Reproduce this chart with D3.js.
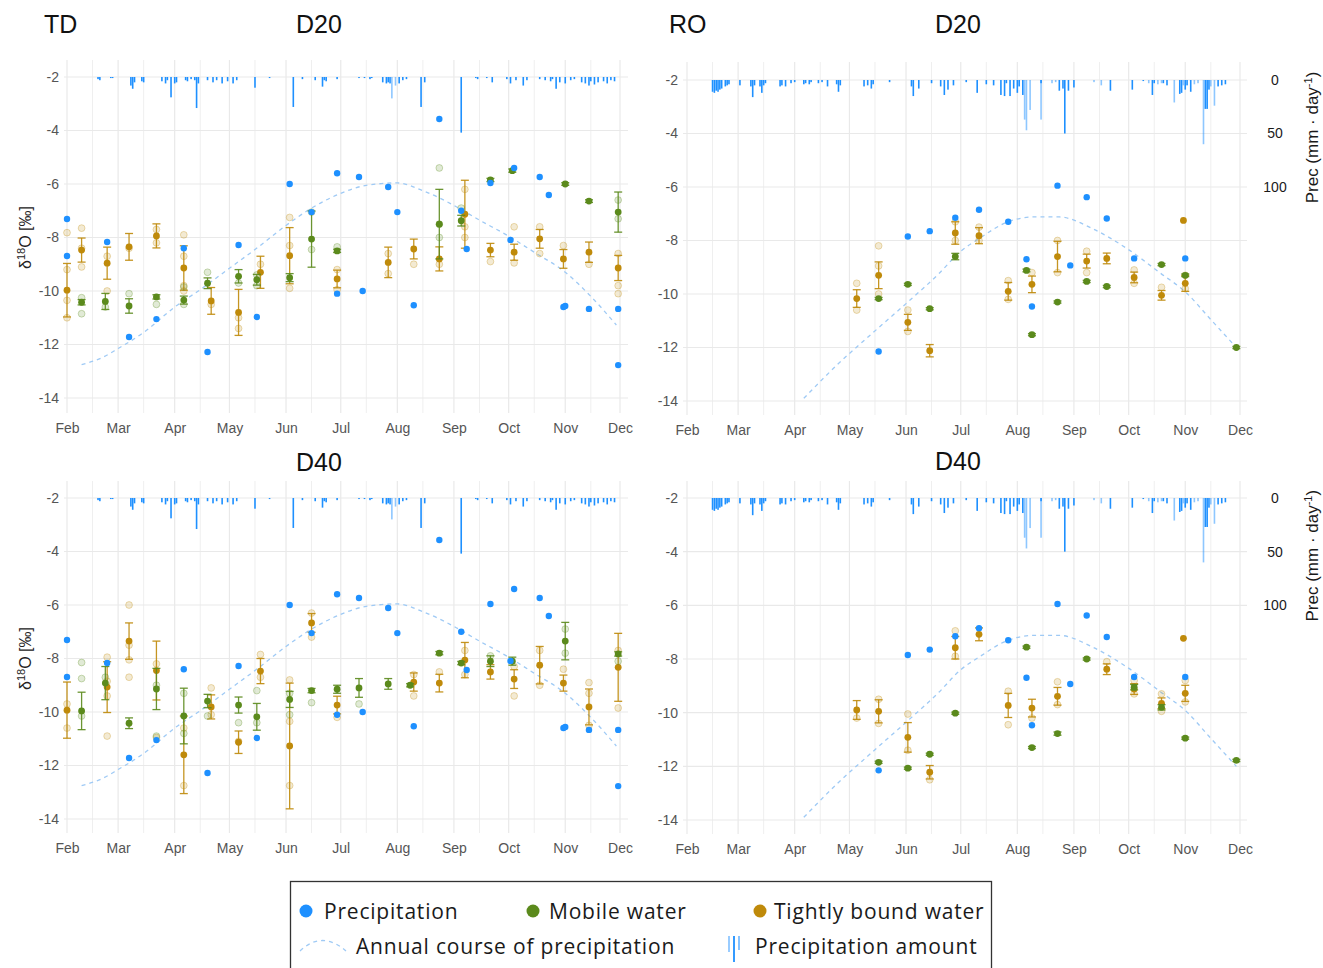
<!DOCTYPE html>
<html>
<head>
<meta charset="utf-8">
<script src="https://cdn.jsdelivr.net/npm/d3@7"></script>
<style>
  body { margin: 0; background: #fff; }
  svg text { font-family: "Liberation Sans", Arial, sans-serif; }
</style>
</head>
<body>
<svg id="fig" width="1323" height="968"></svg>
<script>
// ---- data (dates as MM-DD, values in per mil / mm) ----
var months = ["02-01","03-01","04-01","05-01","06-01","07-01","08-01","09-01","10-01","11-01","12-01"];
var midMonths = ["02-15","03-15","04-15","05-15","06-15","07-15","08-15","09-15","10-15","11-15"];
var yTicks = [-2, -4, -6, -8, -10, -12, -14];
var precTicks = [0, 50, 100];

// precipitation isotopes (blue dots), shared by both depths of a site
var tdPrecIso = [["02-01",-7.31],["02-01",-8.69],["02-23",-8.17],["03-07",-11.72],["03-22",-11.05],["04-06",-8.40],
  ["04-19",-12.28],["05-06",-8.28],["05-16",-10.97],["06-03",-6.00],["06-15",-7.05],["06-29",-5.60],["06-29",-10.10],
  ["07-11",-5.74],["07-13",-10.00],["07-27",-6.11],["08-01",-7.05],["08-10",-10.53],["08-24",-3.57],["09-05",-7.00],
  ["09-08",-8.43],["09-21",-5.96],["10-02",-8.09],["10-04",-5.40],["10-18",-5.74],["10-23",-6.41],["10-31",-10.60],
  ["11-01",-10.56],["11-14",-10.67],["11-30",-10.67],["11-30",-12.77]];
var roPrecIso = [["05-17",-12.15],["06-02",-7.85],["06-14",-7.65],["06-28",-7.15],["07-11",-6.85],["07-27",-7.30],
  ["08-06",-8.70],["08-09",-10.47],["08-23",-5.95],["08-30",-8.93],["09-08",-6.38],["09-19",-7.18],["10-04",-8.67],
  ["11-01",-8.67]];

// annual course of precipitation (dashed line)
var tdCourse = [["02-09",-12.75],["02-20",-12.5],["03-01",-12.15],["03-15",-11.55],["04-01",-10.6],["04-15",-9.95],
  ["05-01",-9.15],["05-15",-8.45],["06-01",-7.55],["06-15",-6.9],["07-01",-6.35],["07-15",-6.05],["08-01",-5.96],
  ["08-15",-6.25],["09-01",-6.8],["09-15",-7.35],["10-01",-7.95],["10-15",-8.55],["11-01",-9.3],["11-15",-10.2],
  ["11-29",-11.27]];
var roCourse = [["04-06",-13.9],["04-25",-12.6],["05-13",-11.5],["06-01",-10.36],["06-19",-9.24],["07-01",-8.4],
  ["07-11",-7.93],["07-27",-7.3],["08-10",-7.12],["08-24",-7.12],["09-11",-7.55],["09-30",-8.3],["10-18",-9.2],
  ["11-02",-9.98],["11-14",-10.88],["11-29",-12.0]];

// daily precipitation amount (mm/day)
var tdRain = [["02-18",2],["02-19",3],["02-25",1],["02-26",1],["03-08",8],["03-09",11],["03-10",5],["03-14",4],["03-15",5],
  ["03-25",4],["03-27",6],["03-28",3],["03-30",19],["04-01",6],["04-02",5],["04-07",3],["04-08",4],["04-10",2],
  ["04-12",3],["04-13",29],["04-14",6],["04-19",3],["04-22",5],["04-24",3],["04-27",6],["04-30",4],["05-03",6],
  ["05-05",3],["05-15",10],["05-23",1],["06-05",28],["06-10",2],["06-17",3],["06-21",9],["06-22",3],["06-23",4],
  ["06-29",2],["07-11",1],["07-14",1],["07-17",2],["07-18",1],["07-24",5],["07-26",6],["07-27",5],["07-28",6],
  ["08-02",6],["08-04",3],["08-06",2],["08-14",28],["08-16",5],["09-05",52],["09-13",1],["09-14",2],
  ["09-19",1],["09-22",5],["09-30",2],["10-02",6],["10-05",3],["10-09",8],["10-11",3],["10-18",2],["10-21",3],
  ["10-24",4],["10-25",2],["10-27",11],["10-29",5],["11-01",6],["11-04",3],["11-06",2],["11-10",5],["11-12",6],
  ["11-14",8],["11-15",4],["11-17",7],["11-19",5],["11-22",4],["11-24",6],["11-26",3],["11-28",4]];
var tdRainB = [["07-29",20],["07-31",8]];
var roRain = [["02-15",11],["02-16",12],["02-17",10],["02-18",11],["02-19",9],["02-20",8],["02-22",6],["02-23",5],
  ["02-24",4],["03-02",5],["03-08",6],["03-09",16],["03-10",5],["03-13",6],["03-14",12],["03-15",5],["03-16",3],
  ["03-24",6],["03-25",5],["03-27",6],["03-30",3],["04-01",2],["04-06",4],["04-07",3],["04-09",4],["04-10",2],
  ["04-14",3],["04-16",2],["04-19",6],["04-24",4],["04-25",11],["04-26",5],["05-09",6],["05-11",5],["05-13",8],
  ["05-14",4],["05-23",2],["06-04",6],["06-05",15],["06-08",8],["06-15",3],["06-20",6],["06-22",14],["06-24",9],
  ["06-27",5],["07-04",2],["07-10",12],["07-15",4],["07-19",5],["07-23",14],["07-25",15],["07-26",3],["07-28",15],
  ["07-30",8],["08-01",12],["08-02",6],["08-04",14],["08-14",3],["08-24",10],["08-26",8],["08-27",50],["08-29",10],
  ["09-01",7],["09-21",10],["10-03",9],["10-09",1],["10-14",14],["10-15",3],["10-20",3],["10-22",5],["10-29",13],
  ["10-30",12],["11-01",9],["11-02",5],["11-04",11],["11-12",27],["11-13",27],["11-14",9],["11-19",6],["11-21",5],
  ["11-23",4]];
var roRainB = [["08-05",37],["08-06",47],["08-08",28],["08-14",37],["08-20",3],["08-22",2],["09-12",2],["09-16",5],
  ["10-12",3],["10-17",4],["10-19",3],["10-26",21],["10-31",5],["11-06",4],["11-08",3],["11-11",60],["11-15",6],
  ["11-17",24]];

// soil water: [date, mean, sd, individual samples]
var tdD20Mobile = [["02-09",-10.42,0.10,[-10.25,-10.85]],["02-22",-10.39,0.30,[-10.60]],["03-07",-10.56,0.27,[-10.10]],
  ["03-22",-10.22,0.08,[-10.50]],["04-06",-10.34,0.15,[-9.85,-10.50]],["04-19",-9.71,0.20,[-9.30]],
  ["05-06",-9.45,0.25,[-9.70]],["05-16",-9.58,0.20,[-9.40,-9.80]],["06-03",-9.50,0.15,[]],
  ["06-15",-8.06,1.05,[-7.05,-8.45]],["06-29",-8.50,0.06,[-8.35]],["08-24",-7.50,1.30,[-5.40,-7.50,-8.00]],
  ["09-05",-7.37,0.20,[-6.90]],["09-21",-5.85,0.06,[]],["10-03",-5.50,0.06,[]],["11-01",-6.00,0.05,[]],
  ["11-14",-6.64,0.05,[]],["11-30",-7.05,0.75,[-6.60,-7.30]]];
var tdD20Tight = [["02-01",-9.97,1.00,[-7.82,-9.20,-10.35,-11.00]],["02-09",-8.47,0.45,[-7.65,-8.40,-9.10]],
  ["02-23",-8.96,0.60,[-8.70,-10.00]],["03-07",-8.35,0.50,[-8.40]],["03-22",-7.94,0.45,[-7.70,-8.20]],
  ["04-06",-9.14,0.83,[-7.90,-8.70,-9.80,-10.00]],["04-21",-10.37,0.50,[-10.50]],["05-06",-10.80,0.86,[-11.00,-11.40]],
  ["05-18",-9.30,0.60,[-9.00]],["06-03",-8.68,1.05,[-7.25,-8.30,-9.90]],["06-29",-9.55,0.33,[-9.20,-9.95]],
  ["07-27",-8.93,0.57,[-8.60,-9.35]],["08-10",-8.43,0.37,[-9.00]],["08-24",-8.80,0.45,[-9.00]],
  ["09-07",-7.13,1.27,[-6.20,-7.60,-8.00]],["09-21",-8.47,0.25,[-8.90]],["10-04",-8.55,0.30,[-7.60,-8.95]],
  ["10-18",-8.05,0.35,[-7.60,-8.60]],["10-31",-8.80,0.35,[-8.30]],["11-14",-8.55,0.38,[-9.00]],
  ["11-30",-9.14,0.47,[-8.60,-9.80,-10.10]]];
var tdD40Mobile = [["02-09",-9.96,0.70,[-8.15,-8.75,-10.15]],["02-22",-8.92,0.62,[-8.70]],["03-07",-10.42,0.20,[]],
  ["03-22",-9.14,0.77,[-9.00,-10.90]],["04-06",-10.15,1.04,[-9.30,-10.80]],["04-19",-9.59,0.25,[-10.15]],
  ["05-06",-9.74,0.30,[-10.40]],["05-16",-10.18,0.50,[-9.20,-10.40]],["06-03",-9.53,0.30,[-9.30,-10.10]],
  ["06-15",-9.20,0.08,[-9.65]],["06-29",-9.15,0.15,[]],["07-11",-9.10,0.35,[-9.70]],["07-27",-8.95,0.20,[]],
  ["08-08",-9.00,0.06,[]],["08-24",-7.80,0.06,[]],["09-05",-8.17,0.06,[]],["09-21",-8.10,0.20,[-7.90]],
  ["10-03",-8.10,0.15,[]],["11-01",-7.35,0.70,[-6.90,-7.80]],["11-30",-7.83,0.08,[-8.10]]];
var tdD40Tight = [["02-01",-9.93,1.05,[-9.70,-10.60]],["02-23",-9.07,0.95,[-7.95,-8.85,-9.40,-10.90]],
  ["03-07",-7.35,0.68,[-6.00,-7.50,-8.05,-8.70]],["03-22",-8.45,1.10,[-8.20,-10.95]],["04-06",-11.60,1.45,[-10.60,-12.75]],
  ["04-21",-9.81,0.45,[-9.10,-10.10]],["05-06",-11.13,0.42,[-11.10]],["05-18",-8.47,0.47,[-7.85,-8.70]],
  ["06-03",-11.27,2.35,[-8.80,-10.35,-12.75]],["06-15",-6.67,0.35,[-6.30,-7.20]],["06-29",-9.74,0.33,[-10.20]],
  ["08-10",-8.88,0.34,[-8.60,-9.40]],["08-24",-8.92,0.33,[-8.50]],["09-07",-8.06,0.66,[-7.70,-8.60]],
  ["09-21",-8.50,0.27,[]],["10-04",-8.77,0.35,[-8.30,-9.40]],["10-18",-8.25,0.70,[-7.70,-9.00]],
  ["10-31",-8.92,0.30,[-8.40]],["11-14",-9.81,0.67,[-8.90,-9.30,-10.50]],["11-30",-8.33,1.27,[-7.70,-9.85]]];
var roD20Mobile = [["05-17",-10.17,0.04,[]],["06-02",-9.64,0.04,[]],["06-14",-10.55,0.04,[]],["06-28",-8.60,0.12,[]],
  ["08-06",-9.12,0.05,[]],["08-09",-11.52,0.04,[]],["08-23",-10.30,0.04,[]],["09-08",-9.53,0.04,[]],
  ["09-19",-9.72,0.04,[]],["10-19",-8.90,0.04,[]],["11-01",-9.30,0.05,[]],["11-29",-12.00,0.04,[]]];
var roD20Tight = [["05-05",-10.17,0.33,[-9.60,-10.60]],["05-17",-9.30,0.50,[-8.20,-8.95,-10.00]],
  ["06-02",-11.06,0.30,[-10.60,-11.40]],["06-14",-12.12,0.23,[]],["06-28",-7.72,0.42,[-7.30,-8.00]],
  ["07-11",-7.82,0.30,[-7.50,-8.00]],["07-27",-9.90,0.33,[-9.50,-10.20]],["08-09",-9.64,0.31,[-9.20]],
  ["08-23",-8.60,0.57,[-8.00,-9.20]],["09-08",-8.77,0.26,[-8.40,-9.20]],["09-19",-8.67,0.20,[]],
  ["10-04",-9.38,0.20,[-9.10,-9.60]],["10-19",-10.05,0.18,[-9.75]],["10-31",-7.25,0,[]],
  ["11-01",-9.60,0.30,[-9.30,-9.80]]];
var roD40Mobile = [["05-17",-11.85,0.04,[]],["06-02",-12.07,0.04,[]],["06-14",-11.55,0.04,[]],["06-28",-10.02,0.04,[]],
  ["08-06",-7.56,0.04,[]],["08-09",-11.30,0.04,[]],["08-23",-10.78,0.06,[]],["09-08",-8.00,0.04,[]],
  ["10-04",-9.05,0.10,[]],["10-19",-9.80,0.10,[]],["11-01",-10.95,0.04,[]],["11-29",-11.78,0.04,[]]];
var roD40Tight = [["05-05",-9.90,0.35,[-10.20]],["05-17",-9.95,0.43,[-9.50,-10.40]],["06-02",-10.92,0.55,[-10.05,-11.40]],
  ["06-14",-12.22,0.25,[-12.50]],["06-28",-7.58,0.42,[-6.95,-7.90]],["07-11",-7.08,0.24,[]],
  ["07-27",-9.73,0.45,[-9.20,-10.45]],["08-09",-9.83,0.33,[-10.20]],["08-23",-9.39,0.33,[-8.85,-9.70]],
  ["09-19",-8.38,0.20,[-8.10]],["10-04",-9.12,0.20,[-8.80,-9.30]],["10-19",-9.65,0.20,[-9.30,-9.95]],
  ["10-31",-7.23,0,[]],["11-01",-9.28,0.30,[-8.80,-9.60]]];

// ---- drawing ----
var blue = "#1e90ff", green = "#5b8a1c", brown = "#bf8a0a", courseCol = "#9fcaf5";
var parseDay = d3.timeParse("%Y-%m-%d");
function day(s) { return parseDay("2021-" + s); }

var panels = [
  {site: "TD", depth: "D20", xr: [67, 620], xb: [64, 628], yr: [77, 398], yb: [60, 413], tickY: 433, titleX: 319, titleY: 33,
   iso: tdPrecIso, course: tdCourse, rain: tdRain, rainB: tdRainB, mobile: tdD20Mobile, tight: tdD20Tight},
  {site: "TD", depth: "D40", xr: [67, 620], xb: [64, 628], yr: [498, 819], yb: [481, 833], tickY: 853, titleX: 319, titleY: 471,
   iso: tdPrecIso, course: tdCourse, rain: tdRain, rainB: tdRainB, mobile: tdD40Mobile, tight: tdD40Tight},
  {site: "RO", depth: "D20", xr: [687, 1240], xb: [683, 1247], yr: [80, 401], yb: [62, 415], tickY: 435, titleX: 958, titleY: 33,
   iso: roPrecIso, course: roCourse, rain: roRain, rainB: roRainB, mobile: roD20Mobile, tight: roD20Tight},
  {site: "RO", depth: "D40", xr: [687, 1240], xb: [683, 1247], yr: [498, 820], yb: [481, 834], tickY: 854, titleX: 958, titleY: 470,
   iso: roPrecIso, course: roCourse, rain: roRain, rainB: roRainB, mobile: roD40Mobile, tight: roD40Tight}
];

var svg = d3.select("#fig");

panels.forEach(function (p, pi) {
  var x = d3.scaleTime().domain([day("02-01"), day("12-01")]).range(p.xr);
  var y = d3.scaleLinear().domain([-2, -14]).range(p.yr);
  var prec = d3.scaleLinear().domain([0, 100]).range([y(-2), y(-6)]);
  var g = svg.append("g");

  g.append("clipPath").attr("id", "clip" + pi)
    .append("rect").attr("x", p.xb[0]).attr("y", p.yb[0])
    .attr("width", p.xb[1] - p.xb[0]).attr("height", p.yb[1] - p.yb[0]);

  // grid
  g.selectAll("line.vminor").data(midMonths).enter().append("line")
    .attr("x1", function (d) { return x(day(d)); }).attr("x2", function (d) { return x(day(d)); })
    .attr("y1", p.yb[0]).attr("y2", p.yb[1])
    .style("stroke", "#efefef").style("stroke-width", 1);
  g.selectAll("line.vmajor").data(months).enter().append("line")
    .attr("x1", function (d) { return x(day(d)); }).attr("x2", function (d) { return x(day(d)); })
    .attr("y1", p.yb[0]).attr("y2", p.yb[1])
    .style("stroke", "#e9e9e9").style("stroke-width", 1.2);
  g.selectAll("line.hmajor").data(yTicks).enter().append("line")
    .attr("x1", p.xb[0]).attr("x2", p.xb[1])
    .attr("y1", function (d) { return y(d); }).attr("y2", function (d) { return y(d); })
    .style("stroke", "#e9e9e9").style("stroke-width", 1.2);

  // axes
  var xa = g.append("g").attr("transform", "translate(0," + (p.tickY - 10) + ")")
    .call(d3.axisBottom(x).tickValues(months.map(day)).tickFormat(d3.timeFormat("%b")).tickSize(0).tickPadding(0));
  var ya = g.append("g").attr("transform", "translate(" + p.xb[0] + ",0)")
    .call(d3.axisLeft(y).tickValues(yTicks).tickFormat(function (d) { return String(d); }).tickSize(0).tickPadding(5));
  [xa, ya].forEach(function (a) {
    a.select(".domain").remove();
    a.selectAll("text").style("font-size", "14px").style("fill", "#555")
      .style("font-family", "'Liberation Sans', Arial, sans-serif");
  });

  // precipitation amount bars hanging from the 0 line
  var bars = g.append("g");
  [[p.rain, 1], [p.rainB, 0.5]].forEach(function (set) {
    bars.selectAll(null).data(set[0]).enter().append("rect")
      .attr("x", function (d) { return x(day(d[0])) - 0.8; })
      .attr("width", 1.6)
      .attr("y", prec(0))
      .attr("height", function (d) { return prec(d[1]) - prec(0); })
      .attr("fill", blue).attr("fill-opacity", set[1]);
  });

  // annual course
  g.append("path").datum(p.course)
    .attr("clip-path", "url(#clip" + pi + ")")
    .attr("d", d3.line().curve(d3.curveMonotoneX)
      .x(function (d) { return x(day(d[0])); }).y(function (d) { return y(d[1]); }))
    .attr("fill", "none").attr("stroke", courseCol).attr("stroke-width", 1.3)
    .attr("stroke-dasharray", "4,4");

  // soil water groups
  [[p.tight, brown], [p.mobile, green]].forEach(function (s) {
    var data = s[0], col = s[1];
    var faded = [];
    data.forEach(function (d) { d[3].forEach(function (v) { faded.push([d[0], v]); }); });
    g.selectAll(null).data(faded).enter().append("circle")
      .attr("cx", function (d) { return x(day(d[0])); })
      .attr("cy", function (d) { return y(d[1]); })
      .attr("r", 3.4)
      .attr("fill", col).attr("fill-opacity", 0.18)
      .attr("stroke", col).attr("stroke-opacity", 0.3).attr("stroke-width", 1);
    var eb = g.selectAll(null).data(data.filter(function (d) { return d[2] > 0; })).enter().append("g")
      .attr("stroke", col).attr("stroke-width", 1.3).attr("stroke-opacity", 0.9);
    eb.append("line")
      .attr("x1", function (d) { return x(day(d[0])); }).attr("x2", function (d) { return x(day(d[0])); })
      .attr("y1", function (d) { return y(d[1] + d[2]); }).attr("y2", function (d) { return y(d[1] - d[2]); });
    [1, -1].forEach(function (sgn) {
      eb.append("line")
        .attr("x1", function (d) { return x(day(d[0])) - 4; }).attr("x2", function (d) { return x(day(d[0])) + 4; })
        .attr("y1", function (d) { return y(d[1] + sgn * d[2]); }).attr("y2", function (d) { return y(d[1] + sgn * d[2]); });
    });
    g.selectAll(null).data(data).enter().append("circle")
      .attr("cx", function (d) { return x(day(d[0])); })
      .attr("cy", function (d) { return y(d[1]); })
      .attr("r", 3.4).attr("fill", col);
  });

  // precipitation isotopes
  g.selectAll(null).data(p.iso).enter().append("circle")
    .attr("cx", function (d) { return x(day(d[0])); })
    .attr("cy", function (d) { return y(d[1]); })
    .attr("r", 3.2).attr("fill", blue);

  // titles
  g.append("text").attr("x", p.titleX).attr("y", p.titleY)
    .attr("text-anchor", "middle").style("font-size", "25px").style("fill", "#111").text(p.depth);
  if (p.depth == "D20") {
    g.append("text").attr("x", p.site == "TD" ? 44 : 669).attr("y", p.titleY)
      .style("font-size", "25px").style("fill", "#111").text(p.site);
  }

  if (p.site == "TD") {
    var yl = g.append("text")
      .attr("transform", "translate(31," + (p.yr[0] + p.yr[1]) / 2 + ") rotate(-90)")
      .attr("text-anchor", "middle").style("font-size", "16px").style("fill", "#222");
    yl.append("tspan").text("δ");
    yl.append("tspan").attr("dy", -6).style("font-size", "11px").text("18");
    yl.append("tspan").attr("dy", 6).text("O [‰]");
  } else {
    var ra = g.append("g").attr("transform", "translate(1275,0)")
      .call(d3.axisRight(prec).tickValues(precTicks).tickSize(0).tickPadding(0));
    ra.select(".domain").remove();
    ra.selectAll("text").attr("x", 0).attr("text-anchor", "middle")
      .style("font-size", "14px").style("fill", "#1a1a1a")
      .style("font-family", "'Liberation Sans', Arial, sans-serif");
    var rl = g.append("text")
      .attr("transform", "translate(1318," + ((prec(0) + prec(100)) / 2 + 4) + ") rotate(-90)")
      .attr("text-anchor", "middle").style("font-size", "17px").style("fill", "#1a1a1a");
    rl.append("tspan").text("Prec (mm · day");
    rl.append("tspan").attr("dy", -6).style("font-size", "11px").text("-1");
    rl.append("tspan").attr("dy", 6).text(")");
  }
});

// ---- legend ----
var lg = svg.append("g");
lg.append("rect").attr("x", 290.5).attr("y", 881.5).attr("width", 701).attr("height", 100)
  .attr("fill", "none").attr("stroke", "#333").attr("stroke-width", 1.3);
var legendFont = function (t) {
  t.style("font-family", "'Open Sans', sans-serif").style("font-size", "21px")
   .style("letter-spacing", "0.8px").style("fill", "#1a1a1a");
};
[[306, blue, 324, "Precipitation"], [533, green, 549, "Mobile water"], [760, brown, 774, "Tightly bound water"]]
  .forEach(function (it) {
    lg.append("circle").attr("cx", it[0]).attr("cy", 911).attr("r", 6.5).attr("fill", it[1]);
    lg.append("text").attr("x", it[2]).attr("y", 919).text(it[3]).call(legendFont);
  });
lg.append("path").attr("d", "M300,951 Q322,930 346,951")
  .attr("fill", "none").attr("stroke", courseCol).attr("stroke-width", 1.3).attr("stroke-dasharray", "4,4");
lg.append("text").attr("x", 356).attr("y", 954).text("Annual course of precipitation").call(legendFont);
[[729, 952, 0.5], [734, 962, 1], [739, 950, 0.6]].forEach(function (b) {
  lg.append("line").attr("x1", b[0]).attr("x2", b[0]).attr("y1", 936).attr("y2", b[1])
    .attr("stroke", blue).attr("stroke-opacity", b[2]).attr("stroke-width", 1.8);
});
lg.append("text").attr("x", 755).attr("y", 954).text("Precipitation amount").call(legendFont);
</script>
</body>
</html>
